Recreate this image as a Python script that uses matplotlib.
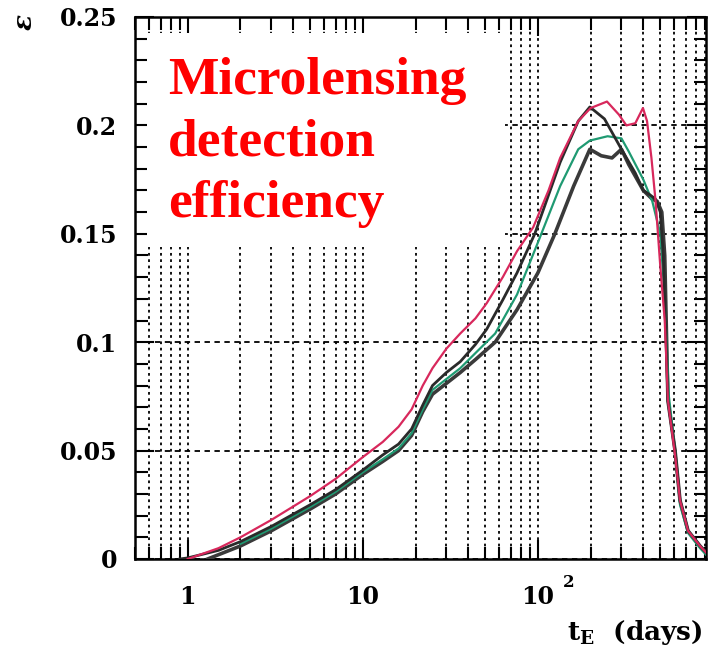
import numpy as np
import matplotlib
matplotlib.use('Agg')
import matplotlib.pyplot as plt
from matplotlib.ticker import LogLocator, MultipleLocator, NullFormatter
from matplotlib.patches import Rectangle

plt.rcParams['font.family'] = ['DejaVu Serif']
plt.rcParams['font.weight'] = 'bold'
plt.rcParams['mathtext.fontset'] = 'dejavuserif'

# efficiency curves (tE in days, epsilon)
t_red = [1.0, 1.5, 2, 3, 5, 7, 10, 13, 16, 19, 22, 25, 30, 36, 44, 51, 63, 76, 94, 115, 134,
         170, 200, 248, 290, 320, 360, 398, 420, 445, 470, 500, 530, 553, 607, 648, 720, 843, 912]
e_red = [0.0, 0.005, 0.010, 0.018, 0.029, 0.037, 0.047, 0.054, 0.061, 0.069, 0.080, 0.088, 0.097,
         0.104, 0.111, 0.118, 0.130, 0.142, 0.153, 0.170, 0.185, 0.202, 0.208, 0.211, 0.205, 0.200,
         0.201, 0.208, 0.202, 0.185, 0.165, 0.135, 0.110, 0.073, 0.048, 0.027, 0.013, 0.006, 0.003]

t_blk1 = [0.9, 1.0, 1.5, 2, 3, 5, 7, 10, 13, 16, 19, 22, 25, 30, 36, 44, 51, 63, 76, 96, 134,
          170, 198, 240, 300, 360, 400, 436, 470, 500, 520, 553, 607, 648, 720, 843, 912]
e_blk1 = [0.0, 0.0005, 0.004, 0.008, 0.015, 0.025, 0.032, 0.041, 0.048, 0.053, 0.060, 0.071,
          0.080, 0.086, 0.091, 0.099, 0.106, 0.1195, 0.132, 0.150, 0.183, 0.202, 0.2085, 0.203,
          0.189, 0.178, 0.170, 0.168, 0.166, 0.160, 0.140, 0.073, 0.050, 0.027, 0.013, 0.006, 0.003]

t_blk2 = [1.3, 2, 3, 5, 7, 10, 13, 16, 19, 22, 25, 30, 36, 44, 57, 76, 100, 125, 160, 198,
          230, 265, 300, 330, 400, 450, 480, 510, 530, 553, 607, 648, 720, 843, 912]
e_blk2 = [0.0, 0.006, 0.013, 0.023, 0.030, 0.039, 0.045, 0.050, 0.057, 0.068, 0.076, 0.081,
          0.086, 0.092, 0.100, 0.115, 0.132, 0.150, 0.172, 0.189, 0.186, 0.185, 0.189, 0.182,
          0.170, 0.166, 0.165, 0.160, 0.140, 0.073, 0.050, 0.027, 0.013, 0.006, 0.003]

t_grn = [2, 3, 5, 7, 10, 13, 16, 19, 22, 25, 30, 36, 44, 57, 76, 100, 134, 170, 198, 250,
         300, 330, 400, 450, 500, 530, 560, 607, 648, 720, 843, 912]
e_grn = [0.007, 0.014, 0.024, 0.031, 0.040, 0.046, 0.051, 0.058, 0.069, 0.078, 0.083, 0.088,
         0.095, 0.104, 0.122, 0.146, 0.172, 0.189, 0.193, 0.195, 0.194, 0.188, 0.175, 0.165,
         0.150, 0.120, 0.075, 0.050, 0.025, 0.012, 0.005, 0.002]

ytick_vals = [0, 0.05, 0.1, 0.15, 0.2, 0.25]
ytick_labels = ['0', '0.05', '0.1', '0.15', '0.2', '0.25']
xtick_vals = [1, 10, 100]
xtick_labels = ['1', '10', '10']

fig = plt.figure(figsize=(7.08, 6.5), dpi=100)
ax = fig.add_axes([135 / 708, 91 / 650, 571 / 708, 542 / 650])

ax.set_xscale('log')
ax.set_xlim(0.5, 912)
ax.set_ylim(0, 0.25)

# grid: dotted verticals at every log position, dashed horizontals at majors
ax.xaxis.set_major_locator(LogLocator(base=10))
ax.xaxis.set_minor_locator(LogLocator(base=10, subs=range(2, 10)))
ax.xaxis.set_minor_formatter(NullFormatter())
ax.set_xticks(xtick_vals, labels=xtick_labels)
ax.set_yticks(ytick_vals, labels=ytick_labels)
ax.yaxis.set_minor_locator(MultipleLocator(0.01))

ax.grid(which='both', axis='x', color='black', linestyle=(0, (1.5, 2)), linewidth=1.3)
ax.grid(which='major', axis='y', color='black', linestyle=(0, (3, 2.5)), linewidth=1.3)

ax.tick_params(which='both', direction='in', top=True, right=True, width=1.5,
               labelsize=17, colors='black')
ax.tick_params(which='major', length=14)
ax.tick_params(which='minor', length=9)
ax.tick_params(axis='y', pad=13)
ax.tick_params(axis='x', pad=19)
for lab in ax.get_xticklabels() + ax.get_yticklabels():
    lab.set_fontweight('bold')
for sp in ax.spines.values():
    sp.set_linewidth(1.8)

# exponent of the 10^2 label, ROOT style
ax.annotate('2', xy=(100, 0), xycoords=('data', 'axes fraction'), xytext=(18, -17),
            textcoords='offset points', fontsize=12, fontweight='bold',
            ha='left', va='center')

# white box behind the annotation
ax.add_patch(Rectangle((0.021, 0.576), 0.627, 0.394, transform=ax.transAxes,
                       facecolor='white', edgecolor='none', zorder=2.5))

ax.plot(t_blk2, e_blk2, color='#3a3a3a', linewidth=2.6, zorder=3)
ax.plot(t_grn, e_grn, color='#1f9a72', linewidth=1.6, zorder=3)
ax.plot(t_blk1, e_blk1, color='#2a2a2a', linewidth=2.0, zorder=3)
ax.plot(t_red, e_red, color='#d8285c', linewidth=1.6, zorder=3)

ax.text(0.058, 0.926, 'Microlensing\ndetection\nefficiency', transform=ax.transAxes,
        color='red', fontsize=38.5, fontweight='bold', linespacing=1.36,
        family='Liberation Serif', ha='left', va='top', zorder=4)

fig.text(25 / 708, 1 - 22 / 650, r'$\epsilon$', rotation=90, fontsize=19,
         ha='center', va='center')
fig.text(703 / 708, 1 - 640 / 650, r'$\mathbf{t_E}$  (days)', fontsize=19,
         fontweight='bold', ha='right', va='baseline')

fig.savefig('out.png', dpi=100)
